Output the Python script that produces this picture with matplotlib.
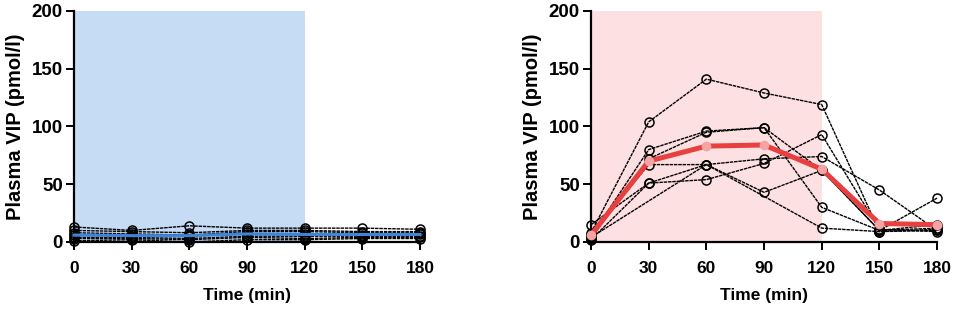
import numpy as np
import matplotlib.pyplot as plt

plt.rcParams['font.family'] = ['Liberation Sans', 'DejaVu Sans']
plt.rcParams['font.weight'] = 'bold'

time = [0, 30, 60, 90, 120, 150, 180]
xticks = [0, 30, 60, 90, 120, 150, 180]
yticks = [0, 50, 100, 150, 200]

# left panel: individual subjects (pmol/l)
left_subjects = [
    [13, 10, 14, 12, 12, 12, 11],
    [10, 9, 8, 10, 10, 9, 9],
    [8, 7, 6, 9, 9, 8, 8],
    [6, 5, 5, 7, 7, 6, 7],
    [4, 4, 3, 5, 5, 5, 5],
    [3, 3, 2, 4, 3, 4, 4],
    [1, 2, 0, 2, 2, 3, 3],
]
left_mean = [6, 5.5, 5.5, 7, 6.5, 6.5, 6.5]

# right panel: individual subjects (nan = missing)
nan = np.nan
right_subjects = [
    [8, 104, 141, 129, 119, 9, 10],
    [5, 80, 96, 99, 30, 10, 12],
    [3, 72, 95, 99, 62, 10, 15],
    [6, 67, 67, 72, 74, 45, 10],
    [15, 51, 54, 68, 93, 11, 9],
    [2, 51, 67, 43, 62, 10, 38],
    [4, nan, 67, nan, 12, 9, 11],
]
right_mean = [6, 70, 83, 84, 63, 16, 15]


def draw_panel(ax, subjects, mean, shade, mean_color, mean_mk, mean_lw, mean_ms):
    ax.axvspan(0, 120, color=shade, lw=0, zorder=0)
    for s in subjects:
        s = np.array(s, dtype=float)
        ok = ~np.isnan(s)
        ax.plot(np.array(time)[ok], s[ok], color='black', lw=1.0,
                ls=(0, (2.5, 0.6)), marker='o', ms=6.5, mfc='none',
                mec='black', mew=1.1, clip_on=False, zorder=3)
    ax.plot(time, mean, color=mean_color, lw=mean_lw, marker='o', ms=mean_ms,
            mfc=mean_mk, mec='none', clip_on=False, zorder=4)
    ax.set_xlim(0, 180)
    ax.set_ylim(0, 200)
    ax.set_xticks(xticks)
    ax.set_yticks(yticks)
    for sp in ['top', 'right']:
        ax.spines[sp].set_visible(False)
    for sp in ['left', 'bottom']:
        ax.spines[sp].set_linewidth(1.6)
    ax.tick_params(width=1.4, length=6)
    ax.tick_params(axis='x', labelsize=12.5, pad=8)
    ax.tick_params(axis='y', labelsize=13.5, pad=2)
    for lab in ax.get_xticklabels() + ax.get_yticklabels():
        lab.set_fontweight('bold')
    ax.set_xlabel('Time (min)', fontsize=12.5, fontweight='bold', labelpad=8)
    ax.set_ylabel('Plasma VIP (pmol/l)', fontsize=14.5, fontweight='bold', labelpad=5)


fig = plt.figure(figsize=(9.57, 3.12), dpi=100)
ax1 = fig.add_axes([0.0773, 0.2244, 0.3616, 0.7404])
ax2 = fig.add_axes([0.6176, 0.2244, 0.3616, 0.7404])

draw_panel(ax1, left_subjects, left_mean, '#c6dcf5', '#3d85d8', '#3d85d8', 2.2, 0)
draw_panel(ax2, right_subjects, right_mean, '#fde0e2', '#e8403f', '#f5a3a3', 3.6, 7)

fig.savefig('out.png', dpi=100)
